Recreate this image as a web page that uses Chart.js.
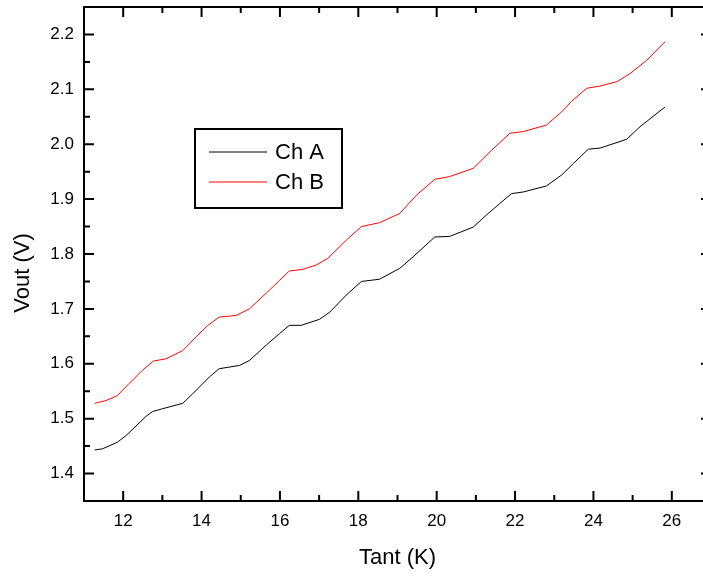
<!DOCTYPE html>
<html>
<head>
<meta charset="utf-8">
<script src="https://cdn.jsdelivr.net/npm/chart.js@4"></script>
<style>
  html, body { margin: 0; padding: 0; background: #fff; overflow: hidden; }
  #wrap { width: 720px; height: 578px; }
</style>
</head>
<body>
<div id="wrap"><canvas id="lineChart"></canvas></div>
<script>
// Ch A (black)
var tantA = [11.27, 11.47, 11.85, 12.07, 12.58, 12.75, 13.0, 13.52, 13.77, 14.2, 14.45, 14.97, 15.22, 15.65, 15.99, 16.24, 16.54, 17.01, 17.27, 17.69, 18.08, 18.54, 19.06, 19.4, 19.95, 20.33, 20.93, 21.27, 21.61, 21.91, 22.21, 22.8, 23.19, 23.49, 23.87, 24.17, 24.85, 25.19, 25.83];
var voutA = [1.443, 1.445, 1.457, 1.469, 1.504, 1.513, 1.518, 1.528, 1.545, 1.576, 1.591, 1.597, 1.606, 1.634, 1.655, 1.67, 1.67, 1.681, 1.694, 1.725, 1.75, 1.754, 1.774, 1.795, 1.831, 1.832, 1.849, 1.871, 1.892, 1.91, 1.913, 1.924, 1.944, 1.965, 1.991, 1.993, 2.009, 2.032, 2.068];
// Ch B (red)
var tantB = [11.27, 11.56, 11.85, 12.15, 12.49, 12.77, 13.09, 13.52, 13.86, 14.16, 14.45, 14.88, 15.22, 15.73, 15.99, 16.24, 16.58, 16.93, 17.22, 17.69, 18.08, 18.54, 19.06, 19.48, 19.95, 20.33, 20.93, 21.4, 21.87, 22.21, 22.8, 23.19, 23.44, 23.83, 24.17, 24.6, 24.94, 25.36, 25.83];
var voutB = [1.528, 1.533, 1.542, 1.564, 1.588, 1.605, 1.609, 1.624, 1.649, 1.67, 1.685, 1.688, 1.7, 1.734, 1.752, 1.769, 1.772, 1.78, 1.792, 1.825, 1.85, 1.857, 1.874, 1.907, 1.936, 1.941, 1.956, 1.989, 2.02, 2.023, 2.035, 2.059, 2.078, 2.102, 2.106, 2.114, 2.129, 2.153, 2.187];

var xTicks = [12, 14, 16, 18, 20, 22, 24, 26];
var xMinor = [11, 13, 15, 17, 19, 21, 23, 25, 27];
var yTicks = [1.4, 1.5, 1.6, 1.7, 1.8, 1.9, 2.0, 2.1, 2.2];
var yMinor = [1.35, 1.45, 1.55, 1.65, 1.75, 1.85, 1.95, 2.05, 2.15, 2.25];

var FONT = 'Liberation Sans, Arial, sans-serif';

function pts(xs, ys) {
    return xs.map(function (x, i) { return { x: x, y: ys[i] }; });
}

// frame, inward ticks, y title and legend box
var framePlugin = {
    id: 'frame',
    afterDraw: function (chart) {
        var c = chart.ctx, a = chart.chartArea;
        var xs = chart.scales.x, ys = chart.scales.y;
        c.save();
        c.strokeStyle = '#000';
        c.lineWidth = 2;
        c.strokeRect(a.left, a.top, a.right - a.left, a.bottom - a.top);
        c.beginPath();
        xTicks.forEach(function (v) {
            var p = xs.getPixelForValue(v);
            c.moveTo(p, a.bottom); c.lineTo(p, a.bottom - 10);
            c.moveTo(p, a.top); c.lineTo(p, a.top + 10);
        });
        xMinor.forEach(function (v) {
            var p = xs.getPixelForValue(v);
            c.moveTo(p, a.bottom); c.lineTo(p, a.bottom - 6);
            c.moveTo(p, a.top); c.lineTo(p, a.top + 6);
        });
        yTicks.forEach(function (v) {
            var p = ys.getPixelForValue(v);
            c.moveTo(a.left, p); c.lineTo(a.left + 10, p);
            c.moveTo(a.right, p); c.lineTo(a.right - 10, p);
        });
        yMinor.forEach(function (v) {
            var p = ys.getPixelForValue(v);
            c.moveTo(a.left, p); c.lineTo(a.left + 6, p);
            c.moveTo(a.right, p); c.lineTo(a.right - 6, p);
        });
        c.stroke();

        // y axis title
        c.fillStyle = '#000';
        c.font = '22px ' + FONT;
        c.textAlign = 'center';
        c.textBaseline = 'middle';
        c.translate(23, 273);
        c.rotate(-Math.PI / 2);
        c.fillText('Vout (V)', 0, 0);
        c.restore();

        // legend
        c.save();
        c.strokeStyle = '#000';
        c.lineWidth = 2;
        c.strokeRect(195, 129, 147, 79);
        c.font = '22px ' + FONT;
        c.textAlign = 'left';
        c.textBaseline = 'middle';
        chart.data.datasets.forEach(function (ds, i) {
            var y = 152 + i * 30;
            c.strokeStyle = ds.borderColor;
            c.lineWidth = 1;
            c.beginPath();
            c.moveTo(209, y); c.lineTo(267, y);
            c.stroke();
            c.fillStyle = '#000';
            c.fillText(ds.label, 275, y + 1);
        });
        c.restore();
    }
};

var ctx = document.getElementById('lineChart').getContext('2d');
var myChart = new Chart(ctx, {
    type: 'line',
    data: {
        datasets: [{
            label: 'Ch A',
            data: pts(tantA, voutA),
            borderColor: '#000000',
            borderWidth: 1,
            pointRadius: 0,
            tension: 0,
            fill: false
        }, {
            label: 'Ch B',
            data: pts(tantB, voutB),
            borderColor: '#ff0000',
            borderWidth: 1,
            pointRadius: 0,
            tension: 0,
            fill: false
        }]
    },
    options: {
        responsive: true,
        maintainAspectRatio: false,
        animation: false,
        layout: { padding: { top: 7, right: 9, left: 0, bottom: 0 } },
        plugins: {
            legend: { display: false },
            tooltip: { enabled: false }
        },
        scales: {
            x: {
                type: 'linear',
                min: 11,
                max: 27,
                afterBuildTicks: function (s) { s.ticks = xTicks.map(function (v) { return { value: v }; }); },
                afterFit: function (s) { s.height = 77; s.paddingLeft = 0; s.paddingRight = 0; },
                grid: { display: false, drawTicks: false },
                border: { display: false },
                ticks: {
                    padding: 10,
                    color: '#000',
                    font: { family: FONT, size: 17 },
                    maxRotation: 0
                },
                title: {
                    display: true,
                    text: 'Tant (K)',
                    color: '#000',
                    font: { family: FONT, size: 22 },
                    padding: { top: 0, bottom: 7 }
                }
            },
            y: {
                type: 'linear',
                min: 1.35,
                max: 2.25,
                afterBuildTicks: function (s) { s.ticks = yTicks.map(function (v) { return { value: v }; }); },
                afterFit: function (s) { s.width = 84; s.paddingTop = 0; s.paddingBottom = 0; },
                grid: { display: false, drawTicks: false },
                border: { display: false },
                ticks: {
                    padding: 10,
                    color: '#000',
                    font: { family: FONT, size: 17 },
                    callback: function (v) { return v.toFixed(1); }
                }
            }
        }
    },
    plugins: [framePlugin]
});
</script>
</body>
</html>
